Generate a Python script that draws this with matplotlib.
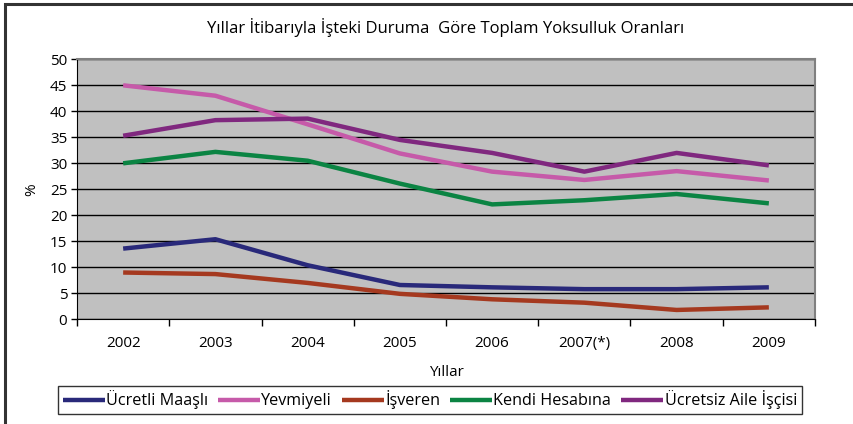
import matplotlib.pyplot as plt
from matplotlib.patches import Rectangle

years = ["2002", "2003", "2004", "2005", "2006", "2007(*)", "2008", "2009"]

ucretli_maasli = [13.6, 15.4, 10.4, 6.6, 6.15, 5.8, 5.8, 6.15]
yevmiyeli = [45.0, 43.0, 37.5, 31.9, 28.4, 26.8, 28.5, 26.7]
isveren = [9.0, 8.7, 7.0, 4.9, 3.85, 3.2, 1.8, 2.3]
kendi_hesabina = [30.0, 32.2, 30.5, 26.1, 22.1, 22.9, 24.1, 22.3]
ucretsiz_aile = [35.3, 38.3, 38.6, 34.5, 32.0, 28.4, 32.0, 29.6]

series_names = ["Ücretli Maaşlı", "Yevmiyeli", "İşveren", "Kendi Hesabına", "Ücretsiz Aile İşçisi"]
series_colors = ["#29297a", "#c65aa9", "#a5391f", "#0b8443", "#80287f"]

plt.rcParams['font.family'] = ['Open Sans', 'DejaVu Sans']

fig = plt.figure(figsize=(8.54, 4.24), dpi=100)
ax = fig.add_axes([0.0902, 0.2469, 0.8641, 0.6132])

# outer chart frame (cut off at the right and bottom)
fig.patches.append(Rectangle((5 / 854, -0.05), 1.0, (424 - 4) / 424 + 0.05,
                             transform=fig.transFigure, fill=False,
                             edgecolor="#333333", linewidth=2.2))

all_series = [ucretli_maasli, yevmiyeli, isveren, kendi_hesabina, ucretsiz_aile]
x = list(range(len(years)))
for values, name, color in zip(all_series, series_names, series_colors):
    ax.plot(x, values, color=color, linewidth=3.2, label=name, solid_capstyle="butt")

ax.set_facecolor("#c0c0c0")
ax.set_xlim(-0.5, len(years) - 0.5)
ax.set_ylim(0, 50)
ax.set_yticks(range(0, 51, 5))
ax.yaxis.grid(True, color="black", linewidth=1.0)
ax.set_axisbelow(True)

ax.set_xticks(x)
ax.set_xticklabels(years, fontsize=11)
ax.tick_params(axis="x", length=0, pad=12)
ax.set_xticks([i - 0.5 for i in range(len(years) + 1)], minor=True)
ax.tick_params(axis="x", which="minor", length=5, width=1, color="black")
ax.tick_params(axis="y", length=4, width=1, labelsize=11, pad=3)

for side in ["top", "right"]:
    ax.spines[side].set_color("#808080")
    ax.spines[side].set_linewidth(1.5)
for side in ["left", "bottom"]:
    ax.spines[side].set_color("black")

ax.set_ylabel("%", fontsize=11, labelpad=8)
ax.set_xlabel("Yıllar", fontsize=11, labelpad=10)
ax.set_title("Yıllar İtibarıyla İşteki Duruma  Göre Toplam Yoksulluk Oranları",
             fontsize=12, pad=19)

leg = ax.legend(loc="upper center", bbox_to_anchor=(0.478, -0.255), ncol=5,
                frameon=True, fancybox=False, fontsize=11.6, handlelength=2.6,
                handletextpad=0.1, columnspacing=0.6, borderpad=0.3,
                borderaxespad=0)
leg.get_frame().set_edgecolor("black")
leg.get_frame().set_linewidth(1.0)

fig.savefig("out.png", dpi=100)
